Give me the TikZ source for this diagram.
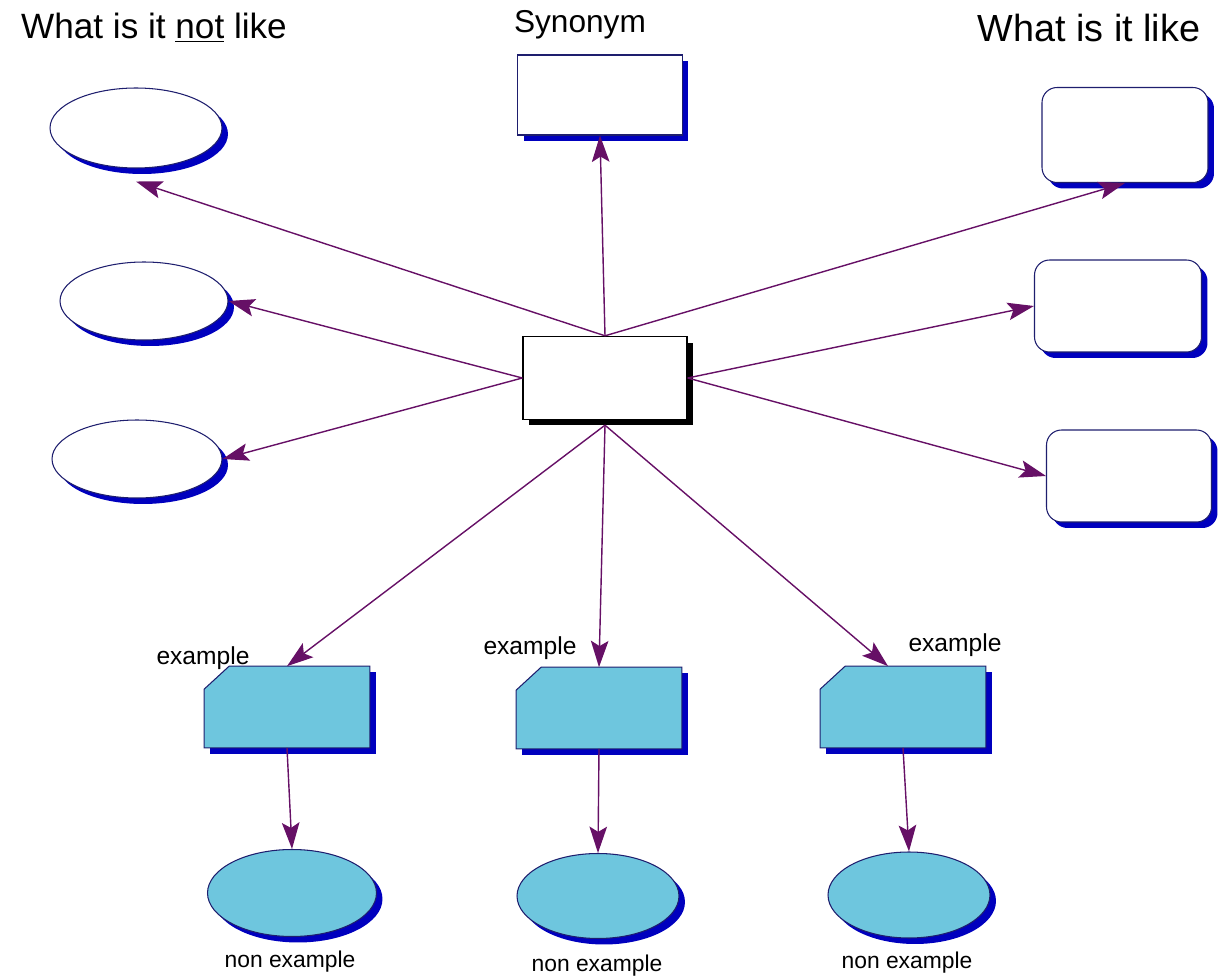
\documentclass[tikz,border=0pt]{standalone}
\usepackage{fontspec}
\setmainfont{Liberation Sans}
\usepackage{tikz}
\usetikzlibrary{shapes.geometric,shadows,arrows.meta}

\definecolor{linkpurple}{RGB}{102,16,102}
\definecolor{edgenavy}{RGB}{30,30,110}
\definecolor{shadeblue}{RGB}{0,0,190}
\definecolor{examplecyan}{RGB}{110,198,222}

\begin{document}
\begin{tikzpicture}[x=0.02cm, y=-0.02cm,
    link/.style={draw=linkpurple, line width=0.8pt, -{Stealth[length=15pt, width=10pt, inset=3pt]}},
    blueshadow/.style={drop shadow={shadow xshift=0.12cm, shadow yshift=-0.12cm, fill=shadeblue, opacity=1}},
    notlike/.style={ellipse, draw=edgenavy, fill=white, line width=0.6pt, inner sep=0pt, blueshadow},
    like/.style={rectangle, rounded corners=0.3cm, draw=edgenavy, fill=white, line width=0.6pt, inner sep=0pt, blueshadow},
    exspot/.style={rectangle, inner sep=0pt, minimum width=3.3cm, minimum height=1.62cm},
    exbox/.style={draw=edgenavy, fill=examplecyan, line width=0.6pt, blueshadow},
    nonex/.style={ellipse, draw=edgenavy, fill=examplecyan, line width=0.6pt, inner sep=0pt, blueshadow},
    small/.style={font=\fontsize{13}{15}\selectfont}
]
    \useasboundingbox (0,0) rectangle (1225,976);

    % Headings
    \node[font=\fontsize{20}{24}\selectfont] (hnot) at (154,28) {What is it \underline{not} like};
    \node[font=\fontsize{18}{22}\selectfont] (hsyn) at (580,25) {Synonym};
    \node[font=\fontsize{21.5}{26}\selectfont] (hlike) at (1089,28) {What is it like};

    % Word in the middle
    \node[rectangle, draw=black, fill=white, line width=0.8pt, minimum width=3.28cm, minimum height=1.66cm,
        drop shadow={shadow xshift=0.12cm, shadow yshift=-0.12cm, fill=black, opacity=1}] (word) at (605,378) {};

    % Synonym
    \node[rectangle, draw=edgenavy, fill=white, line width=0.6pt, minimum width=3.3cm, minimum height=1.6cm, blueshadow] (syn) at (600,95) {};

    % What is it not like
    \node[notlike, minimum width=3.44cm, minimum height=1.6cm] (unlike1) at (136,128) {};
    \node[notlike, minimum width=3.36cm, minimum height=1.56cm] (unlike2) at (144,301) {};
    \node[notlike, minimum width=3.4cm, minimum height=1.56cm] (unlike3) at (137,459) {};

    % What is it like
    \node[like, minimum width=3.32cm, minimum height=1.9cm] (like1) at (1125,135) {};
    \node[like, minimum width=3.34cm, minimum height=1.84cm] (like2) at (1118,306) {};
    \node[like, minimum width=3.3cm, minimum height=1.84cm] (like3) at (1129,476) {};

    % Examples (boxes with the top left corner cut off)
    \node[exspot] (ex1) at (287,707) {};
    \node[exspot] (ex2) at (599,708) {};
    \node[exspot] (ex3) at (903,707) {};
    \foreach \e in {ex1,ex2,ex3}
        \path[exbox] ([xshift=0.5cm]\e.north west) -- (\e.north east) -- (\e.south east)
            -- (\e.south west) -- ([yshift=-0.46cm]\e.north west) -- cycle;
    \node[font=\fontsize{14}{16}\selectfont] (exlab1) at (203,658) {example};
    \node[font=\fontsize{14}{16}\selectfont] (exlab2) at (530,648) {example};
    \node[font=\fontsize{14}{16}\selectfont] (exlab3) at (955,645) {example};

    % Non examples
    \node[nonex, minimum width=3.38cm, minimum height=1.74cm] (non1) at (292,893) {};
    \node[nonex, minimum width=3.24cm, minimum height=1.7cm] (non2) at (598,896) {};
    \node[nonex, minimum width=3.24cm, minimum height=1.72cm] (non3) at (909,895) {};
    \node[small] (nonlab1) at (290,962) {non example};
    \node[small] (nonlab2) at (597,966) {non example};
    \node[small] (nonlab3) at (907,963) {non example};

    % Arrows out of the word
    \draw[link] (word.north) -- (syn.south);
    \draw[link] (word.north) -- ([yshift=-0.26cm]unlike1.south);
    \draw[link] (word.north) -- (like1.south);
    \draw[link] (word.west) -- (unlike2.east);
    \draw[link] (word.west) -- (unlike3.east);
    \draw[link] (word.east) -- (like2.west);
    \draw[link] (word.east) -- (like3.west);
    \draw[link] ([yshift=-0.1cm]word.south) -- (ex1.north);
    \draw[link] ([yshift=-0.1cm]word.south) -- (ex2.north);
    \draw[link] ([yshift=-0.1cm]word.south) -- ([xshift=-0.3cm]ex3.north);

    % Example to non example
    \draw[link] (ex1.south) -- (non1.north);
    \draw[link] (ex2.south) -- (non2.north);
    \draw[link] (ex3.south) -- (non3.north);
\end{tikzpicture}
\end{document}
